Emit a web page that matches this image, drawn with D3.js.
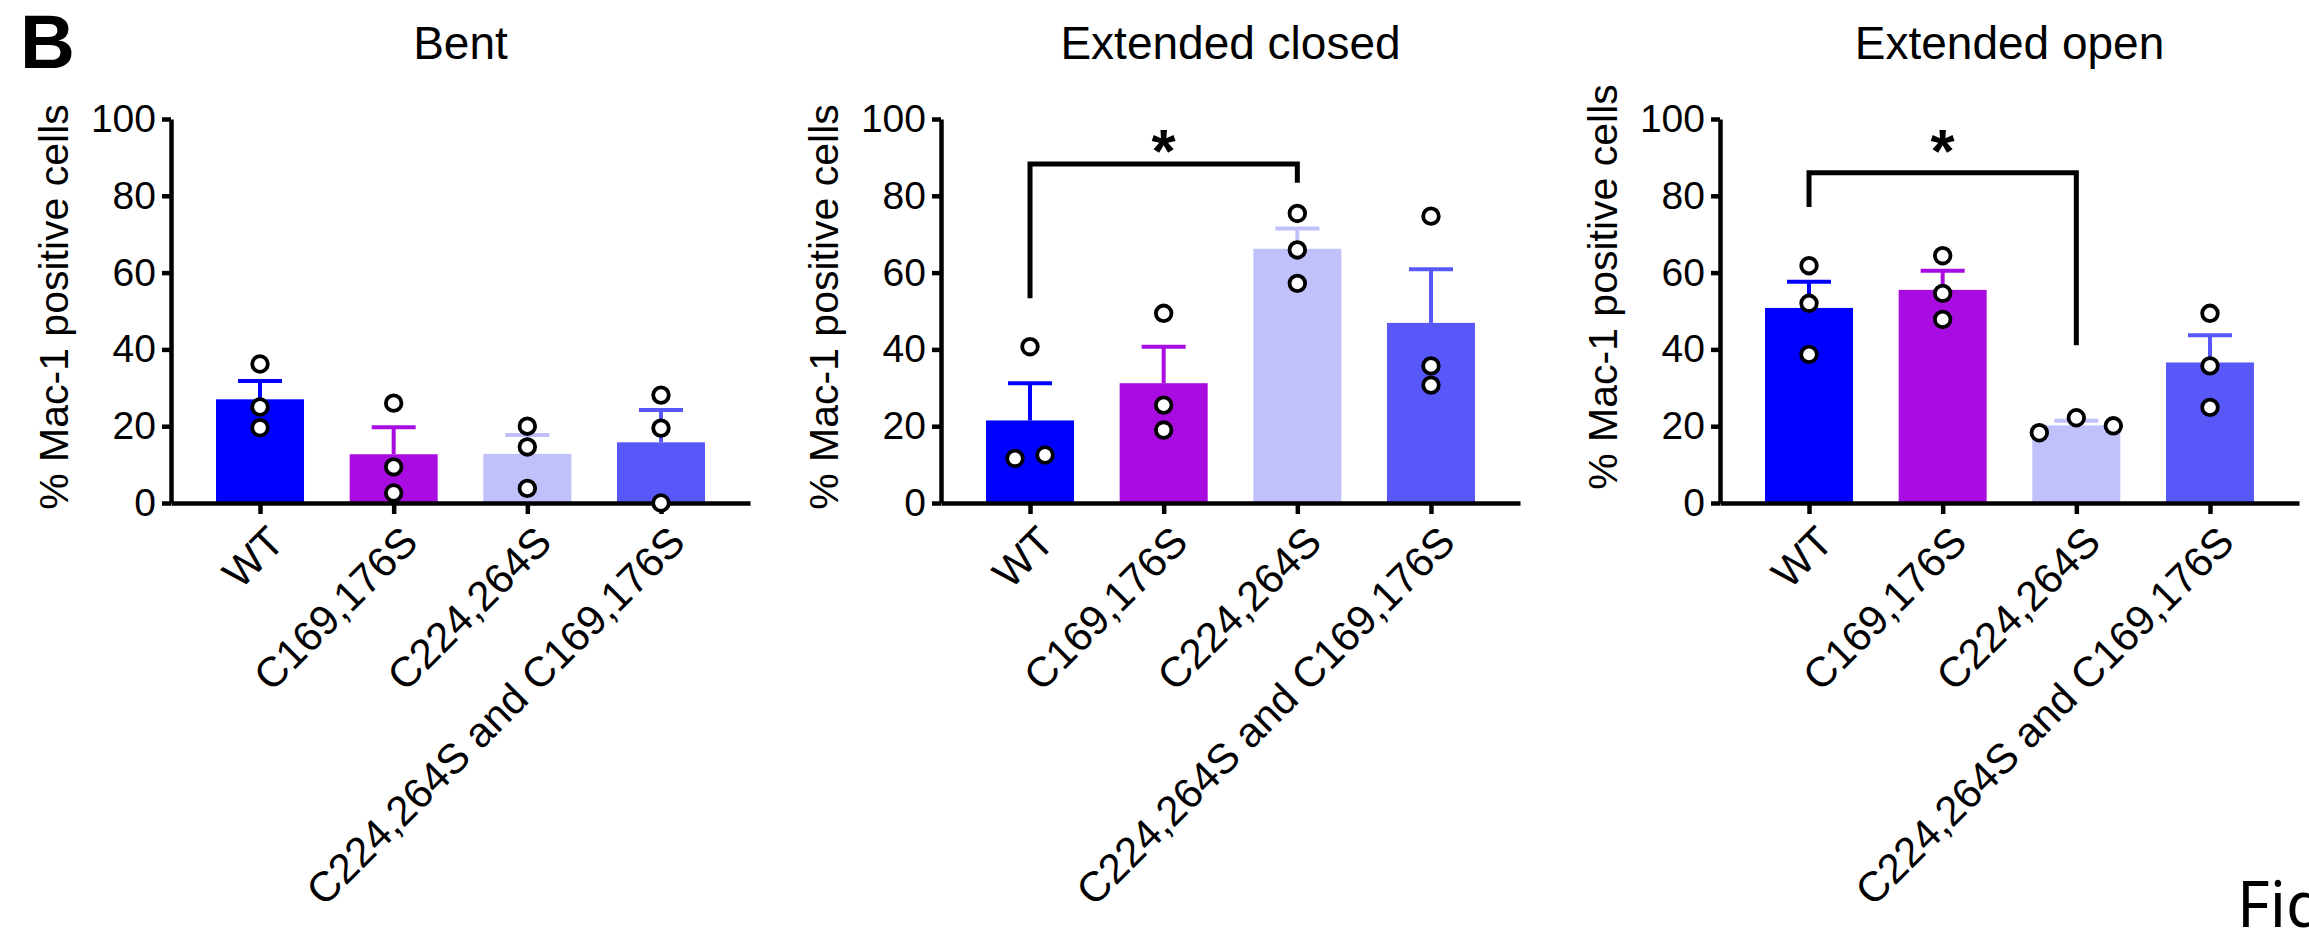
<!DOCTYPE html>
<html>
<head>
<meta charset="utf-8">
<script src="https://cdn.jsdelivr.net/npm/d3@7"></script>
<style>
    body { margin: 0; background: #fff; overflow: hidden; }
    svg { display: block; font-family: "Liberation Sans", Arial, sans-serif; }
</style>
</head>
<body>
<div id="chart"></div>
<script>
// Categorias y titulos
const groups = ['WT', 'C169,176S', 'C224,264S', 'C224,264S and C169,176S'];
const titles = ['Bent', 'Extended closed', 'Extended open'];
const yTickValues = [0, 20, 40, 60, 80, 100];
const groupColors = ['#0000ff', '#a90ce0', '#c0c0fb', '#5858f8'];

// Bent
const bentMeans = [27.0, 12.7, 12.8, 15.8];
const bentSems = [4.8, 7.0, 4.9, 8.4];
const bentPoints = [[36.2, 25.0, 19.6], [26.0, 9.4, 2.6], [20.0, 14.6, 3.8], [28.1, 19.5, 0.0]];

// Extended closed
const closedMeans = [21.5, 31.2, 66.2, 46.9];
const closedSems = [9.7, 9.5, 5.3, 14.0];
const closedPoints = [[40.7, 11.6, 12.5], [49.4, 25.5, 19.0], [75.4, 65.9, 57.2], [74.7, 35.7, 30.7]];

// Extended open
const openMeans = [50.8, 55.5, 20.2, 36.6];
const openSems = [6.8, 5.0, 1.2, 7.1];
const openPoints = [[61.8, 52.0, 38.7], [64.4, 54.6, 47.8], [18.3, 22.2, 20.1], [49.4, 35.7, 24.9]];

// Corchetes de significancia
const closedBracket = { from: 'WT', to: 'C224,264S', top: 88.3, leftEnd: 53.3, rightEnd: 83.4, star: 95, label: '*' };
const openBracket = { from: 'WT', to: 'C224,264S', top: 86.0, leftEnd: 77.1, rightEnd: 41.1, star: 95, label: '*' };

const panels = [
    { title: titles[0], means: bentMeans, sems: bentSems, points: bentPoints, bracket: null },
    { title: titles[1], means: closedMeans, sems: closedSems, points: closedPoints, bracket: closedBracket },
    { title: titles[2], means: openMeans, sems: openSems, points: openPoints, bracket: openBracket }
];

// Disposicion de cada panel (pixeles)
const layout = [
    { left: 171, labelShift: 0, spread: {} },
    { left: 941, labelShift: 0, spread: { 0: [0, -15, 15] } },
    { left: 1720, labelShift: -20, spread: { 2: [-37, 0, 37] } }
];

const width = 2309, height = 934;
const plotW = 579, yTop = 119, yBottom = 503;

const svg = d3.select('#chart')
    .append('svg')
    .attr('width', width)
    .attr('height', height);

// Letra del panel
svg.append('text')
    .attr('x', 20)
    .attr('y', 68)
    .attr('font-size', 76)
    .attr('font-weight', 'bold')
    .text('B');

const y = d3.scaleLinear().domain([0, 100]).range([yBottom, yTop]);
const x = d3.scalePoint().domain(groups).range([0, plotW]).padding(0.666);
const barW = 88, capW = 44;

panels.forEach((p, pi) => {
    const lay = layout[pi];
    const g = svg.append('g').attr('transform', `translate(${lay.left},0)`);

    // Titulo
    g.append('text')
        .attr('x', plotW / 2)
        .attr('y', 59)
        .attr('text-anchor', 'middle')
        .attr('font-size', 46)
        .text(p.title);

    // Etiqueta eje Y
    g.append('text')
        .attr('transform', `translate(-103,${307 + lay.labelShift}) rotate(-90)`)
        .attr('text-anchor', 'middle')
        .attr('font-size', 41)
        .text('% Mac-1 positive cells');

    // Barras
    g.append('g')
        .selectAll('rect')
        .data(groups)
        .enter().append('rect')
        .attr('x', d => x(d) - barW / 2)
        .attr('y', (d, i) => y(p.means[i]))
        .attr('width', barW)
        .attr('height', (d, i) => y(0) - y(p.means[i]))
        .attr('fill', (d, i) => groupColors[i]);

    // Barras de error (solo hacia arriba)
    const err = g.append('g')
        .selectAll('g')
        .data(groups)
        .enter().append('g')
        .attr('stroke', (d, i) => groupColors[i])
        .attr('stroke-width', 4);
    err.append('line')
        .attr('x1', d => x(d)).attr('x2', d => x(d))
        .attr('y1', (d, i) => y(p.means[i]))
        .attr('y2', (d, i) => y(p.means[i] + p.sems[i]));
    err.append('line')
        .attr('x1', d => x(d) - capW / 2).attr('x2', d => x(d) + capW / 2)
        .attr('y1', (d, i) => y(p.means[i] + p.sems[i]))
        .attr('y2', (d, i) => y(p.means[i] + p.sems[i]));

    // Ejes
    const yAxis = g.append('g')
        .call(d3.axisLeft(y).tickValues(yTickValues).tickSize(9).tickSizeOuter(0).tickPadding(6));
    const xAxis = g.append('g')
        .attr('transform', `translate(0,${yBottom})`)
        .call(d3.axisBottom(x).tickSize(11).tickSizeOuter(0).tickFormat(''));
    [yAxis, xAxis].forEach(a => {
        a.selectAll('.domain, .tick line').attr('stroke', '#000').attr('stroke-width', 4.5);
    });
    yAxis.selectAll('text').attr('font-size', 39).attr('fill', '#000').attr('font-family', null);

    // Etiquetas X rotadas
    g.append('g')
        .selectAll('text')
        .data(groups)
        .enter().append('text')
        .attr('transform', d => `translate(${x(d) + 5},523) rotate(-45)`)
        .attr('text-anchor', 'end')
        .attr('dy', '0.72em')
        .attr('font-size', 42)
        .text(d => d);

    // Corchete de significancia
    if (p.bracket) {
        const b = p.bracket;
        const x1 = x(b.from), x2 = x(b.to);
        g.append('path')
            .attr('d', `M${x1},${y(b.leftEnd)}V${y(b.top)}H${x2}V${y(b.rightEnd)}`)
            .attr('fill', 'none')
            .attr('stroke', '#000')
            .attr('stroke-width', 5);
        g.append('text')
            .attr('x', (x1 + x2) / 2)
            .attr('y', y(b.star))
            .attr('dy', '0.55em')
            .attr('text-anchor', 'middle')
            .attr('font-size', 62)
            .attr('font-weight', 'bold')
            .text(b.label);
    }

    // Puntos individuales
    const pts = [];
    p.points.forEach((vals, gi) => {
        vals.forEach((v, k) => {
            const off = lay.spread[gi] ? lay.spread[gi][k] : 0;
            pts.push({ g: groups[gi], v, off });
        });
    });
    g.append('g')
        .selectAll('circle')
        .data(pts)
        .enter().append('circle')
        .attr('cx', d => x(d.g) + d.off)
        .attr('cy', d => y(d.v))
        .attr('r', 7.8)
        .attr('fill', '#fff')
        .attr('stroke', '#000')
        .attr('stroke-width', 3.8);
});

// Texto cortado de la figura
svg.append('text')
    .attr('x', 2237)
    .attr('y', 927)
    .attr('font-size', 63)
    .attr('font-family', '"Noto Sans", sans-serif')
    .text('Fig');
</script>
</body>
</html>
